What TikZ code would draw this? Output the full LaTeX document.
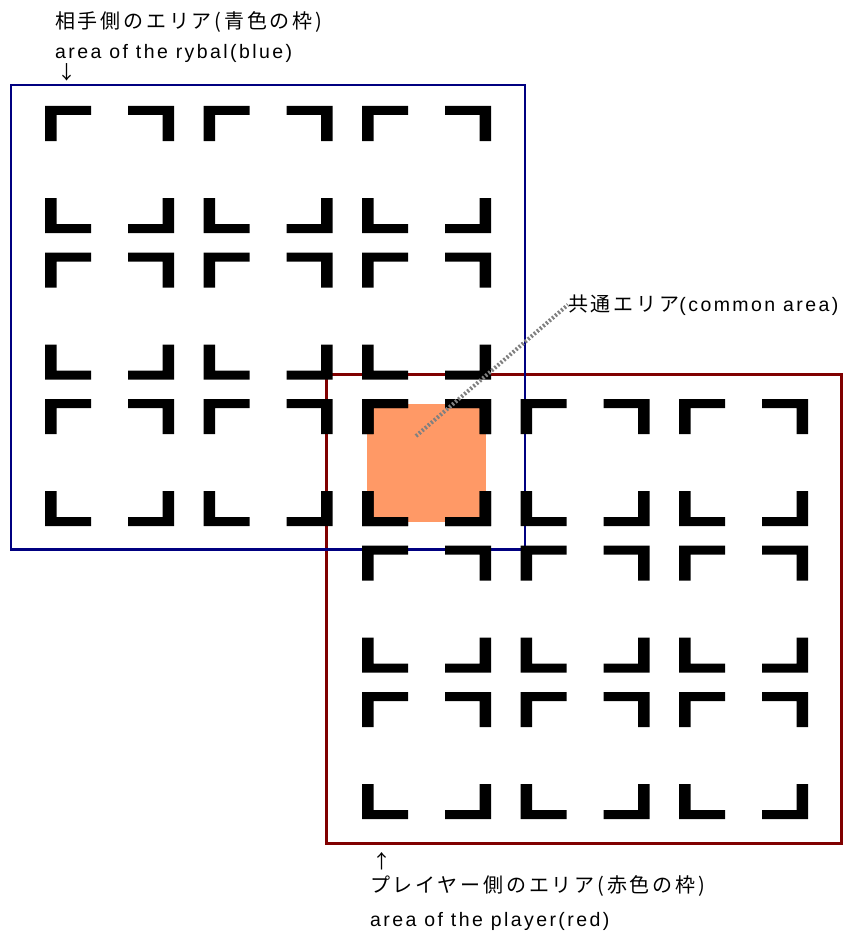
\documentclass[tikz,border=0pt]{standalone}
\usepackage{fontspec}
\setmainfont{Liberation Sans}[LetterSpace=12.5]
\newfontfamily\jpfont{Noto Sans CJK JP}[LetterSpace=14]
\usetikzlibrary{positioning}
\definecolor{rivalblue}{HTML}{000080}
\definecolor{playerred}{HTML}{800000}
\definecolor{commonorange}{HTML}{FF9966}
\definecolor{leadgray}{HTML}{808080}
\tikzset{
  latlabel/.style={font=\fontsize{19.5}{22}\selectfont,inner sep=0pt,anchor=base west},
  jplabel/.style={font=\jpfont\fontsize{20}{23}\selectfont,inner sep=0pt,anchor=base west},
  arrowchar/.style={font=\jpfont\fontsize{19}{22}\selectfont,inner sep=0pt},
  rivalframe/.style={draw=rivalblue,line width=2.4pt},
  playerframe/.style={draw=playerred,line width=2.4pt},
  corner/.style={fill=black},
  common/.style={fill=commonorange,minimum width=119pt,minimum height=118pt,inner sep=0pt,anchor=north west},
  leader/.style={draw=leadgray,line width=4pt,dash pattern=on 2pt off 2pt}
}
\begin{document}
\begin{tikzpicture}[x=1pt,y=-1pt]
\useasboundingbox (0,0) rectangle (859,931);
% frames of the two areas
\draw[playerframe] (326.5,374.5) rectangle (841.5,843.5);
\draw[rivalframe] (11,85) rectangle (525,549.5);
% common area
\node[common] (common) at (367,404) {};
% corner marks, rival side then player side
\foreach \cx in {45,203.5,362}
  \foreach \cy in {106,252.5,399}
    {\fill[corner] (\cx,\cy) rectangle ++(46,9) (\cx,\cy) rectangle ++(11.5,35)
       (\cx+129,\cy) rectangle ++(-46,9) (\cx+129,\cy) rectangle ++(-11.5,35)
       (\cx,\cy+127) rectangle ++(46,-9) (\cx,\cy+127) rectangle ++(11.5,-35)
       (\cx+129,\cy+127) rectangle ++(-46,-9) (\cx+129,\cy+127) rectangle ++(-11.5,-35);}
\foreach \cx in {362,520.5,679}
  \foreach \cy in {399,545.5,692}
    {\fill[corner] (\cx,\cy) rectangle ++(46,9) (\cx,\cy) rectangle ++(11.5,35)
       (\cx+129,\cy) rectangle ++(-46,9) (\cx+129,\cy) rectangle ++(-11.5,35)
       (\cx,\cy+127) rectangle ++(46,-9) (\cx,\cy+127) rectangle ++(11.5,-35)
       (\cx+129,\cy+127) rectangle ++(-46,-9) (\cx+129,\cy+127) rectangle ++(-11.5,-35);}
% labels
\node[jplabel] (rivaljp) at (55,29) {相手側のエリア(青色の枠)};
\node[latlabel] (rivalen) at (55,59) {area of the rybal(blue)};
\node[arrowchar] (rivalarr) at (67,72) {↓};
\node[arrowchar] (playerarr) at (382,861) {↑};
\node[jplabel] (playerjp) at (370,892) {プレイヤー側のエリア(赤色の枠)};
\node[latlabel] (playeren) at (370,926) {area of the player(red)};
\coordinate (commonpt) at (416,436);
\node[latlabel] (commonlbl) at (568,311) {{\jpfont\fontsize{20}{23}\selectfont 共通エリア}(common area)};
\draw[leader] (commonpt) -- (commonlbl.west);
\end{tikzpicture}
\end{document}
